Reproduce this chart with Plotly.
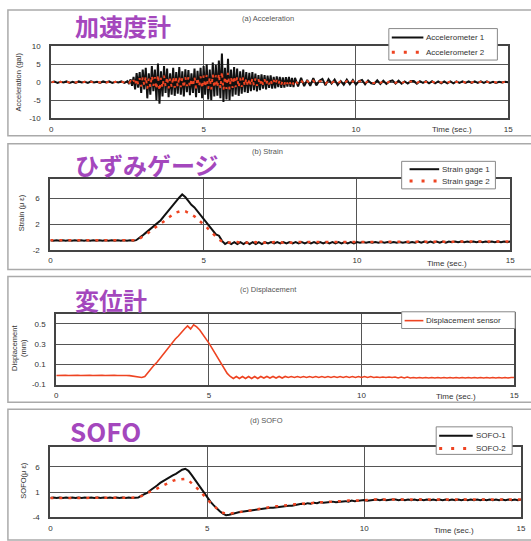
import numpy as np
import plotly.graph_objects as go

# ---------------- data ----------------
# strain / displacement / SOFO sampled every 0.1 s, 0 .. 15 s
time_s = np.round(np.arange(0, 15.01, 0.1), 1)
# acceleration: 0.1 s before 2.5 s and after 8 s, 0.05 s in the strong-motion window
time_acc = np.round(np.concatenate([np.linspace(0, 2.4, 25),
                                    np.linspace(2.5, 8.0, 111),
                                    np.linspace(8.1, 15.0, 70)]), 2)

acc1 = [0, 0.2, -0.2, 0.1, -0.1, 0.2, -0.2, 0.1, -0.2, 0.2,
        -0.1, 0.1, -0.2, 0.2, -0.1, 0.1, -0.2, 0.2, -0.1, 0.2,
        -0.2, 0.1, -0.1, 0.2, -0.2,
        # 2.50 .. 8.00 every 0.05 s
        0.3, -0.5, 0.8, -1.0, 1.5, -2.0, 2.5, -1.5, 2.8, -3.0,
        3.5, -2.0, 4.0, -4.5, 2.5, -3.5, 4.5, -2.5, 3.5, -5.0,
        5.2, -6.0, 3.0, -4.0, 4.5, -3.0, 3.8, -4.2, 2.5, -3.5,
        4.0, -3.8, 2.8, -3.2, 4.2, -3.5, 3.0, -4.0, 3.6, -2.8,
        3.4, -3.6, 2.5, -3.0, 3.8, -4.2, 3.2, -3.0, 4.0, -4.5,
        4.5, -3.5, 5.0, -4.8, 3.5, -5.0, 5.5, -4.0, 4.8, -3.8,
        6.0, -4.5, 8.0, -5.5, 4.0, -4.8, 6.5, -5.0, 3.5, -4.0,
        4.2, -3.5, 3.8, -3.8, 3.0, -3.2, 3.5, -2.8, 2.8, -3.0,
        2.6, -2.5, 2.8, -2.2, 2.4, -2.6, 2.0, -2.2, 2.2, -1.8,
        2.0, -2.0, 1.8, -1.6, 1.9, -1.8, 1.5, -1.7, 1.6, -1.4,
        1.5, -1.6, 1.3, -1.5, 1.4, -1.2, 1.5, -1.3, 1.2, -1.4,
        1.2,
        # 8.1 .. 15.0 every 0.1 s
        -1.2, 1.2, -1.1, 0.6, -1.0, 1.1, -0.9, 0.4, 0.9,
        -0.9, 0.8, -0.4, 0.7, -0.8, 0.3, -0.7, 0.7, -0.6, 0.6,
        -0.7, 0.3, 0.6, -0.6, 0.5, -0.3, -0.5, 0.5, -0.5, 0.4,
        -0.5, 0.2, 0.5, -0.4, 0.4, -0.4, 0.2, -0.4, 0.3, 0.3,
        -0.4, 0.3, -0.2, 0.3, -0.3, 0.3, -0.3, 0.2, -0.3, 0.2,
        -0.3, 0.2, -0.3, 0.2, -0.2, 0.2, -0.2, 0.2, -0.2, 0.2,
        -0.2, 0.2, -0.2, 0.2, -0.2, 0.1, -0.2, 0.1, -0.1, 0.1,
        0.0]

acc2 = [0, 0.1, -0.1, 0.1, -0.1, 0.1, -0.1, 0.1, -0.1, 0.1,
        -0.1, 0.1, -0.1, 0.1, -0.1, 0.1, -0.1, 0.1, -0.1, 0.1,
        -0.1, 0.1, -0.1, 0.1, -0.1,
        # 2.50 .. 8.00 every 0.05 s
        0.1, -0.2, 0.3, -0.4, 0.6, -0.8, 1.0, -0.6, 1.1, -1.2,
        1.4, -0.8, 1.6, -1.8, 1.0, -1.4, 1.8, -1.0, 1.4, -2.0,
        2.1, -2.4, 1.2, -1.6, 1.8, -1.2, 1.5, -1.7, 1.0, -1.4,
        1.6, -1.5, 1.1, -1.3, 1.7, -1.4, 1.2, -1.6, 1.4, -1.1,
        1.4, -1.4, 1.0, -1.2, 1.5, -1.7, 1.3, -1.2, 1.6, -1.8,
        1.8, -1.4, 2.0, -1.9, 1.4, -2.0, 2.2, -1.6, 1.9, -1.5,
        2.4, -1.8, 3.0, -2.2, 1.6, -1.9, 2.6, -2.0, 1.4, -1.6,
        1.7, -1.4, 1.5, -1.5, 1.2, -1.3, 1.4, -1.1, 1.1, -1.2,
        1.0, -1.0, 1.1, -0.9, 1.0, -1.0, 0.8, -0.9, 0.9, -0.7,
        0.8, -0.8, 0.7, -0.6, 0.8, -0.7, 0.6, -0.7, 0.6, -0.6,
        0.6, -0.6, 0.5, -0.6, 0.6, -0.5, 0.6, -0.5, 0.5, -0.6,
        0.5,
        # 8.1 .. 15.0 every 0.1 s
        -0.5, 0.5, -0.5, 0.3, -0.4, 0.4, -0.4, 0.2, 0.4,
        -0.4, 0.4, -0.2, 0.3, -0.3, 0.2, -0.3, 0.3, -0.3, 0.3,
        -0.3, 0.2, 0.3, -0.3, 0.3, -0.2, -0.2, 0.2, -0.2, 0.2,
        -0.2, 0.1, 0.2, -0.2, 0.2, -0.2, 0.1, -0.2, 0.2, 0.2,
        -0.2, 0.2, -0.1, 0.1, -0.2, 0.1, -0.1, 0.1, -0.1, 0.1,
        -0.1, 0.1, -0.1, 0.1, -0.1, 0.1, -0.1, 0.1, -0.1, 0.1,
        -0.1, 0.1, -0.1, 0.1, -0.1, 0.1, -0.1, 0.1, -0.1, 0.1,
        0.0]

strain1 = [-0.5, -0.6, -0.5, -0.6, -0.5, -0.6, -0.5, -0.6, -0.5, -0.6,
           -0.5, -0.6, -0.5, -0.6, -0.5, -0.6, -0.5, -0.6, -0.5, -0.6,
           -0.5, -0.6, -0.5, -0.6, -0.5, -0.6, -0.5, -0.6, -0.5, -0.2,
           0.2, 0.6, 1.0, 1.4, 1.9, 2.2, 2.6, 3.2, 3.8, 4.3,
           4.9, 5.5, 6.1, 6.6, 6.2, 5.6, 5.0, 4.6, 4.0, 3.4,
           2.8, 2.2, 1.6, 0.9, 0.4, 0.2, -0.6, -1.1, -0.8, -1.1,
           -0.8, -1.1, -0.8, -1.1, -0.8, -1.1, -0.8, -1.1, -0.8, -1.1,
           -0.8, -1.0, -0.8, -1.0, -0.8, -1.0, -0.8, -1.0, -0.8, -1.0,
           -0.8, -1.0, -0.8, -1.0, -0.8, -1.0, -0.8, -1.0, -0.8, -1.0,
           -0.8, -1.0, -0.8, -1.0, -0.8, -1.0, -0.8, -1.0, -0.8, -1.0,
           -0.8, -0.9, -0.8, -0.9, -0.8, -0.9, -0.8, -0.9, -0.8, -0.9,
           -0.8, -0.9, -0.8, -0.9, -0.8, -0.9, -0.8, -0.9, -0.8, -0.9,
           -0.7, -0.9, -0.7, -0.9, -0.7, -0.9, -0.7, -0.9, -0.7, -0.9,
           -0.7, -0.8, -0.7, -0.8, -0.7, -0.8, -0.7, -0.8, -0.7, -0.8,
           -0.7, -0.8, -0.7, -0.8, -0.7, -0.8, -0.7, -0.8, -0.7, -0.8,
           -0.7]

strain2 = [-0.5, -0.5, -0.5, -0.5, -0.5, -0.5, -0.5, -0.5, -0.5, -0.5,
           -0.5, -0.5, -0.5, -0.5, -0.5, -0.5, -0.5, -0.5, -0.5, -0.5,
           -0.5, -0.5, -0.5, -0.5, -0.5, -0.5, -0.5, -0.5, -0.5, -0.3,
           0.0, 0.3, 0.7, 1.0, 1.4, 1.7, 2.0, 2.4, 2.8, 3.2,
           3.5, 3.8, 4.0, 4.1, 4.0, 3.8, 3.5, 3.2, 2.8, 2.4,
           2.0, 1.5, 1.0, 0.5, 0.0, -0.4, -0.7, -0.9, -0.9, -0.8,
           -0.9, -0.8, -0.9, -0.8, -0.9, -0.8, -0.9, -0.8, -0.9, -0.8,
           -0.9, -0.8, -0.9, -0.8, -0.9, -0.8, -0.9, -0.8, -0.9, -0.8,
           -0.8, -0.8, -0.8, -0.8, -0.8, -0.8, -0.8, -0.8, -0.8, -0.8,
           -0.8, -0.8, -0.8, -0.8, -0.8, -0.8, -0.8, -0.8, -0.8, -0.8,
           -0.8, -0.8, -0.8, -0.8, -0.8, -0.8, -0.8, -0.8, -0.8, -0.8,
           -0.7, -0.8, -0.7, -0.8, -0.7, -0.8, -0.7, -0.8, -0.7, -0.8,
           -0.7, -0.8, -0.7, -0.8, -0.7, -0.8, -0.7, -0.8, -0.7, -0.8,
           -0.7, -0.7, -0.7, -0.7, -0.7, -0.7, -0.7, -0.7, -0.7, -0.7,
           -0.7, -0.7, -0.7, -0.7, -0.7, -0.7, -0.7, -0.7, -0.7, -0.7,
           -0.7]

disp = [-0.01, -0.008, -0.01, -0.008, -0.01, -0.008, -0.01, -0.008, -0.01, -0.008,
        -0.01, -0.008, -0.01, -0.008, -0.01, -0.008, -0.01, -0.008, -0.01, -0.008,
        -0.01, -0.008, -0.01, -0.01, -0.012, -0.015, -0.018, -0.02, -0.03, -0.02,
        0.02, 0.06, 0.09, 0.12, 0.16, 0.20, 0.23, 0.27, 0.31, 0.35,
        0.38, 0.42, 0.45, 0.48, 0.45, 0.49, 0.47, 0.44, 0.40, 0.36,
        0.31, 0.26, 0.21, 0.15, 0.10, 0.05, 0.01, -0.02, -0.04, -0.02,
        -0.04, -0.02, -0.04, -0.02, -0.04, -0.02, -0.04, -0.02, -0.035, -0.02,
        -0.035, -0.02, -0.035, -0.02, -0.035, -0.02, -0.03, -0.02, -0.03, -0.02,
        -0.03, -0.02, -0.03, -0.02, -0.03, -0.02, -0.03, -0.02, -0.03, -0.02,
        -0.03, -0.02, -0.03, -0.02, -0.03, -0.02, -0.03, -0.02, -0.03, -0.02,
        -0.03, -0.02, -0.03, -0.02, -0.03, -0.025, -0.03, -0.025, -0.03, -0.025,
        -0.03, -0.025, -0.035, -0.025, -0.035, -0.025, -0.035, -0.03, -0.035, -0.03,
        -0.035, -0.03, -0.035, -0.03, -0.035, -0.03, -0.035, -0.03, -0.035, -0.03,
        -0.035, -0.03, -0.035, -0.03, -0.035, -0.03, -0.035, -0.03, -0.035, -0.03,
        -0.035, -0.03, -0.035, -0.03, -0.035, -0.03, -0.035, -0.03, -0.035, -0.03,
        -0.03]

sofo1 = [-0.2, -0.1, -0.2, -0.1, -0.2, -0.1, -0.2, -0.1, -0.2, -0.1,
         -0.2, -0.1, -0.2, -0.1, -0.2, -0.1, -0.2, -0.1, -0.2, -0.1,
         -0.2, -0.1, -0.2, -0.1, -0.2, -0.1, -0.2, -0.2, -0.1, 0.3,
         0.6, 0.9, 1.4, 1.8, 2.3, 2.8, 3.2, 3.6, 4.0, 4.3,
         4.6, 5.0, 5.4, 5.6, 5.2, 4.4, 3.5, 2.6, 1.8, 0.9,
         0.0, -0.9, -1.6, -2.3, -2.8, -3.3, -3.6, -3.5, -3.3, -3.2,
         -3.0, -2.9, -2.8, -2.8, -2.6, -2.6, -2.4, -2.4, -2.3, -2.2,
         -2.1, -2.1, -2.0, -1.9, -1.9, -1.8, -1.7, -1.7, -1.6, -1.5,
         -1.3, -1.4, -1.2, -1.3, -1.1, -1.2, -1.0, -1.1, -1.0, -1.0,
         -0.9, -1.0, -0.9, -0.9, -0.8, -0.9, -0.7, -0.8, -0.7, -0.7,
         -0.6, -0.7, -0.6, -0.6, -0.5, -0.6, -0.5, -0.6, -0.5, -0.5,
         -0.5, -0.6, -0.5, -0.6, -0.5, -0.6, -0.5, -0.6, -0.5, -0.6,
         -0.5, -0.6, -0.5, -0.6, -0.5, -0.6, -0.5, -0.6, -0.5, -0.6,
         -0.5, -0.6, -0.5, -0.6, -0.5, -0.6, -0.5, -0.6, -0.5, -0.6,
         -0.5, -0.6, -0.5, -0.6, -0.5, -0.6, -0.5, -0.6, -0.5, -0.6,
         -0.5]

sofo2 = [-0.2, -0.2, -0.2, -0.2, -0.2, -0.2, -0.2, -0.2, -0.2, -0.2,
         -0.2, -0.2, -0.2, -0.2, -0.2, -0.2, -0.2, -0.2, -0.2, -0.2,
         -0.2, -0.2, -0.2, -0.2, -0.2, -0.2, -0.2, -0.2, -0.1, 0.2,
         0.5, 0.8, 1.1, 1.4, 1.8, 2.1, 2.4, 2.7, 3.0, 3.2,
         3.4, 3.5, 3.6, 3.6, 3.3, 2.8, 2.2, 1.6, 1.0, 0.3,
         -0.4, -1.1, -1.7, -2.3, -2.8, -3.1, -3.3, -3.3, -3.2, -3.1,
         -2.9, -2.8, -2.7, -2.6, -2.5, -2.4, -2.3, -2.2, -2.1, -2.0,
         -2.0, -1.9, -1.8, -1.8, -1.7, -1.6, -1.6, -1.5, -1.4, -1.4,
         -1.3, -1.3, -1.2, -1.2, -1.1, -1.1, -1.0, -1.0, -0.9, -0.9,
         -0.9, -0.8, -0.8, -0.8, -0.7, -0.7, -0.7, -0.7, -0.6, -0.6,
         -0.6, -0.6, -0.5, -0.5, -0.5, -0.5, -0.5, -0.5, -0.5, -0.5,
         -0.5, -0.5, -0.5, -0.5, -0.5, -0.5, -0.5, -0.5, -0.5, -0.5,
         -0.5, -0.5, -0.5, -0.5, -0.5, -0.5, -0.5, -0.5, -0.5, -0.5,
         -0.5, -0.5, -0.5, -0.5, -0.5, -0.5, -0.5, -0.5, -0.5, -0.5,
         -0.5, -0.5, -0.5, -0.5, -0.5, -0.5, -0.5, -0.5, -0.5, -0.5,
         -0.5]

x_ticks = [0, 5, 10, 15]
y_ticks = [[-10, -5, 0, 5, 10], [-2, 2, 6], [-0.1, 0.1, 0.3, 0.5], [-4, 1, 6]]
y_ranges = [[-10, 10], [-2, 9], [-0.1, 0.6], [-4, 10]]
W, H = 531, 541

# ---------------- figure ----------------
BLACK = "#111111"
RED = "#ee4422"
PURPLE = "#a447bd"
FONT = "Liberation Sans, Arial"
fig = go.Figure()

series = [
    (time_acc, acc1, "Accelerometer 1", "x", "y", dict(color=BLACK, width=2)),
    (time_acc, acc2, "Accelerometer 2", "x", "y", dict(color=RED, width=2, dash="3px,5px")),
    (time_s, strain1, "Strain gage 1", "x2", "y2", dict(color=BLACK, width=2)),
    (time_s, strain2, "Strain gage 2", "x2", "y2", dict(color=RED, width=2.5, dash="3px,6px")),
    (time_s, disp, "Displacement sensor", "x3", "y3", dict(color=RED, width=1.6)),
    (time_s, sofo1, "SOFO-1", "x4", "y4", dict(color=BLACK, width=2)),
    (time_s, sofo2, "SOFO-2", "x4", "y4", dict(color=RED, width=2.5, dash="3px,6px")),
]
for tt, vals, name, xa, ya, ln in series:
    assert len(vals) == len(tt), (name, len(vals), len(tt))
    fig.add_trace(go.Scatter(x=tt, y=vals, mode="lines", name=name, line=ln,
                             xaxis=xa, yaxis=ya, showlegend=False))


def px_x(v):
    return v / W


def px_y(v):
    return 1 - v / H


panels = [(50, 513, 43, 116), (49, 515, 178, 250), (55, 519, 315, 387), (49, 526, 450, 522)]
tick_font = dict(family=FONT, size=8, color="#333333")
for i, (x0, x1, yt, yb) in enumerate(panels):
    sfx = "" if i == 0 else str(i + 1)
    fig.layout["xaxis" + sfx] = dict(
        domain=[px_x(x0), px_x(x1)], range=[0, 15], anchor="y" + sfx,
        tickvals=x_ticks, ticktext=[str(v) for v in x_ticks], showgrid=True,
        gridcolor="#555555", gridwidth=1, showline=True, mirror=True,
        linecolor="#444444", linewidth=2, zeroline=False, ticks="",
        tickfont=tick_font, ticklabelstandoff=2)
    fig.layout["yaxis" + sfx] = dict(
        domain=[px_y(yb), px_y(yt)], range=y_ranges[i], anchor="x" + sfx,
        tickvals=y_ticks[i], ticktext=[("%g" % v) for v in y_ticks[i]], showgrid=True,
        gridcolor="#555555", gridwidth=1, showline=True, mirror=True,
        linecolor="#444444", linewidth=2, zeroline=False, ticks="",
        tickfont=tick_font, ticklabelstandoff=7)

shapes = []
ann = []
# outer panel frames
for (top, bot) in [(6, 134), (142, 270), (277, 405), (412, 545)]:
    shapes.append(dict(type="rect", xref="paper", yref="paper",
                       x0=px_x(6), x1=px_x(540), y0=px_y(bot), y1=px_y(top),
                       line=dict(color="#aaaaaa", width=1.5), layer="below"))

# legend boxes: (box x0, x1, y0, y1, sample x0, x1, [(row y, name, style)])
legends = [
    (392, 502, 25, 57, 395, 427, [(34, series[0][2], "solid"), (49, series[1][2], "dot")]),
    (405, 500, 160, 188, 413, 443, [(168, series[2][2], "solid"), (180, series[3][2], "dot")]),
    (405, 520, 313, 330, 408, 427, [(322, series[4][2], "red")]),
    (440, 517, 430, 458, 443, 477, [(439, series[5][2], "solid"), (452, series[6][2], "dot")]),
]
for bx0, bx1, by0, by1, sx0, sx1, rows in legends:
    shapes.append(dict(type="rect", xref="paper", yref="paper",
                       x0=px_x(bx0), x1=px_x(bx1), y0=px_y(by1), y1=px_y(by0),
                       line=dict(color="#888888", width=1), fillcolor="white", layer="above"))
    for ry, name, style in rows:
        if style == "solid":
            ln = dict(color=BLACK, width=2)
        elif style == "red":
            ln = dict(color=RED, width=1.6)
        else:
            ln = dict(color=RED, width=3, dash="3px,9px")
        shapes.append(dict(type="line", xref="paper", yref="paper",
                           x0=px_x(sx0), x1=px_x(sx1), y0=px_y(ry), y1=px_y(ry),
                           line=ln, layer="above"))
        ann.append(dict(text=name, x=px_x(sx1 + 1), y=px_y(ry), xref="paper", yref="paper",
                        xanchor="left", yanchor="middle", showarrow=False,
                        font=dict(family=FONT, size=8, color="#333333")))

big = [("加速度計", 72, 22, 24), ("ひずみゲージ", 72, 163, 24), ("変位計", 72, 300, 24), ("SOFO", 67, 434, 26)]
for txt, x, y, sz in big:
    ann.append(dict(text="<b>%s</b>" % txt, x=px_x(x), y=px_y(y), xref="paper", yref="paper",
                    xanchor="left", yanchor="middle", showarrow=False,
                    font=dict(family="Noto Sans CJK JP, Arial", size=sz, color=PURPLE)))

small_titles = [("(a) Acceleration", 270, 15), ("(b) Strain", 269, 150),
                ("(c) Displacement", 270, 290), ("(d) SOFO", 268, 424)]
for txt, x, y in small_titles:
    ann.append(dict(text=txt, x=px_x(x), y=px_y(y), xref="paper", yref="paper",
                    xanchor="center", yanchor="middle", showarrow=False,
                    font=dict(family=FONT, size=7.5, color="#555555")))

for x, y in [(456, 128), (451, 264), (460, 399), (458, 535)]:
    ann.append(dict(text="Time (sec.)", x=px_x(x), y=px_y(y), xref="paper", yref="paper",
                    xanchor="center", yanchor="middle", showarrow=False,
                    font=dict(family=FONT, size=8, color="#333333")))

ytitles = [("Acceleration (gal)", 17, 79), ("Strain (μ ε)", 20, 212),
           ("Displacement<br>(mm)", 17, 350), ("SOFO(μ ε)", 22, 485)]
for txt, x, y in ytitles:
    ann.append(dict(text=txt, x=px_x(x), y=px_y(y), xref="paper", yref="paper",
                    xanchor="center", yanchor="middle", showarrow=False, textangle=-90,
                    font=dict(family=FONT, size=7.5, color="#333333")))

fig.update_layout(
    width=W, height=H, margin=dict(l=0, r=0, t=0, b=0),
    paper_bgcolor="white", plot_bgcolor="white",
    shapes=shapes, annotations=ann, showlegend=False,
)

fig.write_html("out.html")
